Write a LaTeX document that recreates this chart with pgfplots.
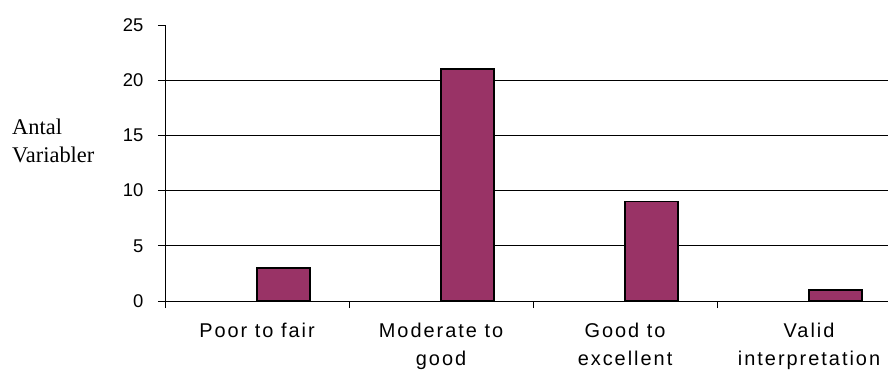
\documentclass[border=0pt]{standalone}
\usepackage{pgfplots}
\pgfplotsset{compat=1.18}
\usepackage{fontspec}
\setmainfont{Liberation Sans}
\newfontfamily\seriffont{Liberation Serif}
\newfontfamily\spacedfont[LetterSpace=10]{Liberation Sans}
\definecolor{barcol}{HTML}{993366}
\begin{document}
\begin{tikzpicture}
\useasboundingbox (-165bp,-75bp) rectangle (723bp,301bp);
\begin{axis}[
  at={(0,0)}, anchor=south west,
  scale only axis, width=723bp, height=276bp,
  xmin=-0.5, xmax=3.429, ymin=0, ymax=25,
  axis x line*=bottom, axis y line*=left,
  axis line style={black, line width=0.9pt, -},
  ytick={0,5,10,15,20,25},
  yticklabel={\fontsize{18.5}{20}\selectfont\pgfmathprintnumber{\tick}},
  extra y ticks={5,10,15,20},
  extra y tick labels={},
  extra y tick style={grid=major, major tick length=0pt},
  major grid style={black, line width=0.9pt},
  xtick={0,1,2,3},
  xticklabels={Poor to fair, {Moderate to\\good}, {Good to\\excellent}, {Valid\\interpretation}},
  minor xtick={-0.5,0.5,1.5,2.5},
  x tick style={draw=none},
  minor x tick style={draw=black, line width=0.9pt},
  minor tick length=7bp,
  major tick length=7bp,
  tick align=outside,
  y tick style={black, line width=0.9pt},
  xticklabel style={align=center, font=\spacedfont\fontsize{20}{28}\selectfont, yshift=-12bp},
  yticklabel style={xshift=-11bp},
  /pgf/number format/assume math mode=true,
  clip=false,
]
\addplot[ybar, bar width=53bp, bar shift=26.5bp, fill=barcol, draw=black, line width=1.6pt]
  coordinates {(0,3) (1,21) (2,9) (3,1)};
\end{axis}
\node[anchor=base west, font=\seriffont\fontsize{22.5}{28}\selectfont, inner sep=0pt] at (-153bp,166bp) {Antal};
\node[anchor=base west, font=\seriffont\fontsize{22.5}{28}\selectfont, inner sep=0pt] at (-153bp,138bp) {Variabler};
\end{tikzpicture}
\end{document}
